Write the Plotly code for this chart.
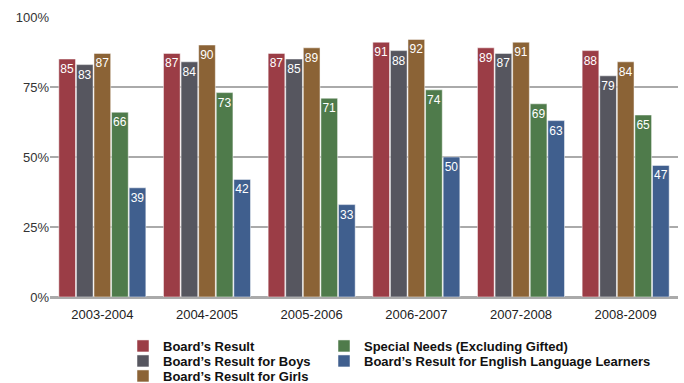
import plotly.graph_objects as go

years = ["2003-2004", "2004-2005", "2005-2006", "2006-2007", "2007-2008", "2008-2009"]
board = [85, 87, 87, 91, 89, 88]
boys = [83, 84, 85, 88, 87, 79]
girls = [87, 90, 89, 92, 91, 84]
special = [66, 73, 71, 74, 69, 65]
ell = [39, 42, 33, 50, 63, 47]
y_ticks = [0, 25, 50, 75, 100]
y_tick_labels = ["0%", "25%", "50%", "75%", "100%"]

names = ["Board\u2019s Result", "Board\u2019s Result for Boys", "Board\u2019s Result for Girls",
         "Special Needs (Excluding Gifted)", "Board\u2019s Result for English Language Learners"]
values = [board, boys, girls, special, ell]
colors = ["#9b3d46", "#56565f", "#8b6336", "#4f7b4b", "#405f8e"]
legend_ids = ["legend", "legend2", "legend3", "legend4", "legend5"]

W, H = 684, 383
ML, MR, MT, MB = 50, 6, 17, 86
pw, ph = W - ML - MR, H - MT - MB

def px_to_paper_x(px):
    return (px - ML) / pw

def px_to_paper_y(py):
    return (H - MB - py) / ph

fig = go.Figure()
for name, vals, col, lg in zip(names, values, colors, legend_ids):
    fig.add_trace(go.Bar(
        name="<b>" + name + "</b>", x=years, y=vals,
        marker=dict(color=col, line=dict(color="white", width=0.5)),
        text=[str(v) for v in vals], textposition="inside", textangle=0,
        insidetextanchor="end", constraintext="none",
        textfont=dict(color="white", size=12, family="Liberation Sans, Arial"),
        legend=lg, showlegend=True,
    ))

legend_pos = [(123, 346), (123, 361), (123, 376), (324, 346), (324, 361)]
leg_font = dict(size=13, color="#111", family="Liberation Sans, Arial")
layout_legends = {}
for lg, (lx, ly) in zip(legend_ids, legend_pos):
    layout_legends[lg] = dict(
        x=px_to_paper_x(lx), y=px_to_paper_y(ly), xanchor="left", yanchor="middle",
        orientation="v", font=leg_font, itemwidth=30, bgcolor="rgba(0,0,0,0)",
        borderwidth=0, visible=True,
    )

fig.update_layout(
    width=W, height=H,
    margin=dict(l=ML, r=MR, t=MT, b=MB, autoexpand=False),
    showlegend=True,
    plot_bgcolor="white", paper_bgcolor="white",
    barmode="group", bargap=0.16, bargroupgap=0.05,
    font=dict(family="Liberation Sans, Arial", color="#333"),
    xaxis=dict(showgrid=False, tickfont=dict(size=13, color="#222"), ticks="",
               showline=False, ticklabelstandoff=8),
    yaxis=dict(range=[0, 100], tickvals=y_ticks, ticktext=y_tick_labels,
               showgrid=True, gridcolor="#aaaaaa", gridwidth=2,
               zeroline=True, zerolinecolor="#aaaaaa", zerolinewidth=3,
               tickfont=dict(size=13, color="#333"), ticks=""),
    **layout_legends,
)

fig.write_html("out.html")
